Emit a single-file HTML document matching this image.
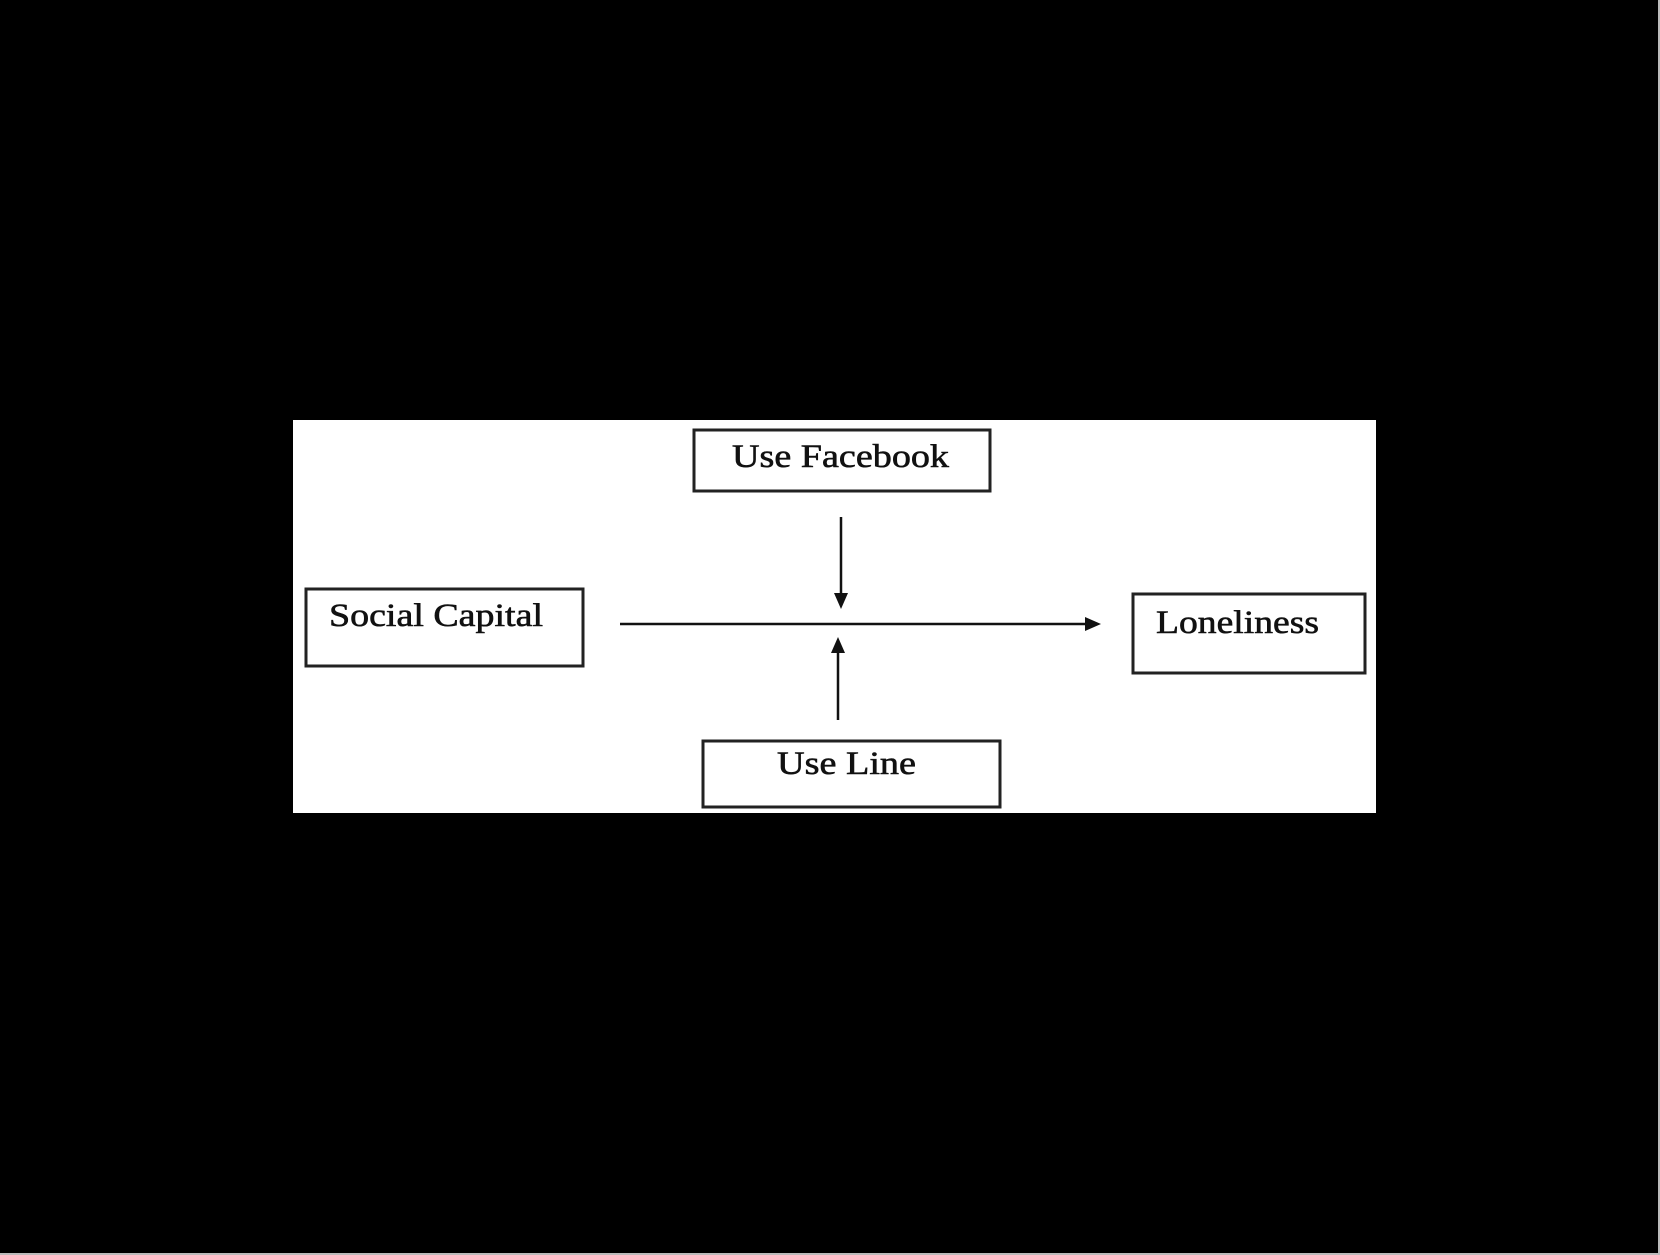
<!DOCTYPE html>
<html><head><meta charset="utf-8"><style>
html,body{margin:0;padding:0;background:#000;}
svg{display:block;}
</style></head><body>
<svg width="1660" height="1255" viewBox="0 0 1660 1255" xmlns="http://www.w3.org/2000/svg">
<rect x="0" y="0" width="1660" height="1255" fill="#000"/>
<rect x="0" y="1253" width="1660" height="2" fill="#bbb"/>
<rect x="1658" y="0" width="2" height="1255" fill="#bbb"/>
<rect x="293" y="420" width="1083" height="393" fill="#fff"/>
<g fill="none" stroke="#222" stroke-width="3">
<rect x="694" y="430" width="296" height="61"/>
<rect x="306" y="589" width="277" height="77"/>
<rect x="1133" y="594" width="232" height="79"/>
<rect x="703" y="741" width="297" height="66"/>
</g>
<g stroke="#111" stroke-width="2.5">
<line x1="620" y1="624" x2="1088" y2="624"/>
<line x1="841" y1="517" x2="841" y2="596"/>
<line x1="838" y1="720" x2="838" y2="650"/>
</g>
<g fill="#111">
<polygon points="1101,624 1085,617 1085,631"/>
<polygon points="841,609 834,593 848,593"/>
<polygon points="838,637 831,653 845,653"/>
</g>
<g font-family="Liberation Serif, serif" font-size="33" fill="#111" stroke="#111" stroke-width="0.6">
<text x="732" y="467" textLength="217" lengthAdjust="spacingAndGlyphs">Use Facebook</text>
<text x="329" y="626" textLength="214" lengthAdjust="spacingAndGlyphs">Social Capital</text>
<text x="1156" y="633" textLength="163" lengthAdjust="spacingAndGlyphs">Loneliness</text>
<text x="777" y="774" textLength="139" lengthAdjust="spacingAndGlyphs">Use Line</text>
</g>
</svg>
</body></html>
